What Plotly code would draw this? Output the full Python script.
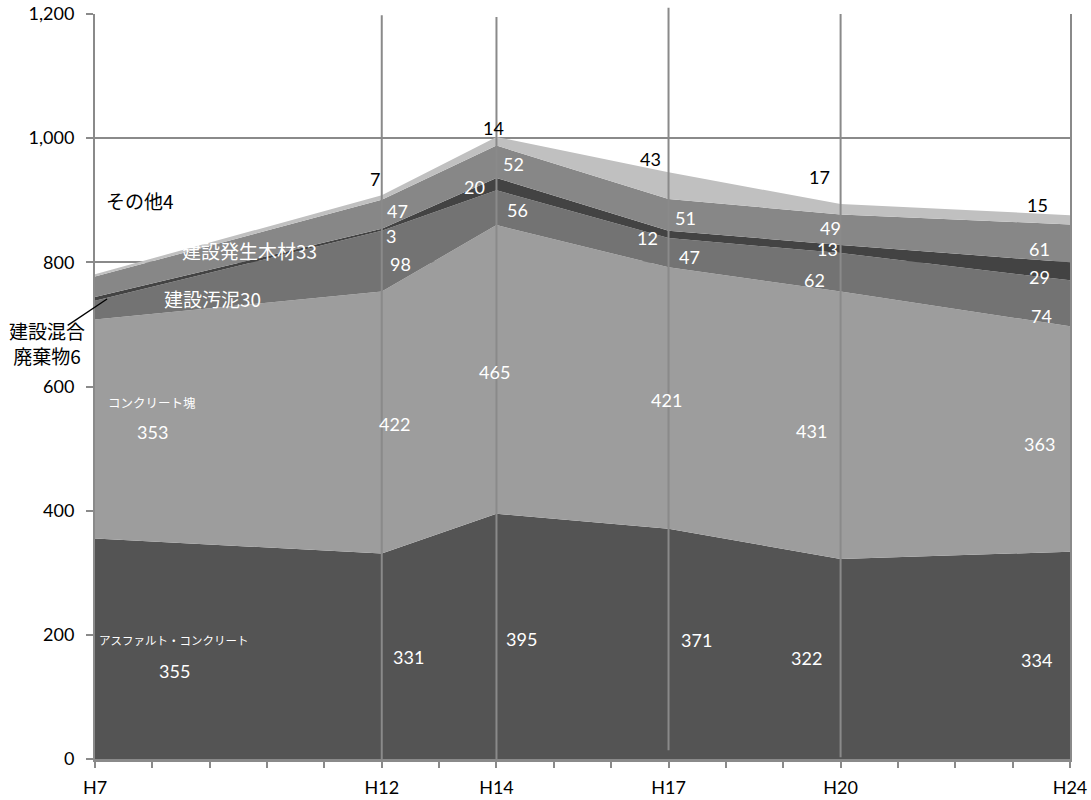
import plotly.graph_objects as go

# 年度（平成）
years = [7, 12, 14, 17, 20, 24]
year_labels = ["H7", "H12", "H14", "H17", "H20", "H24"]

# 品目別の量（下から積み上げ順）
asphalt = [355, 331, 395, 371, 322, 334]      # アスファルト・コンクリート
concrete = [353, 422, 465, 421, 431, 363]     # コンクリート塊
sludge = [30, 98, 56, 47, 62, 74]             # 建設汚泥
mixed = [6, 3, 20, 12, 13, 29]                # 建設混合廃棄物
wood = [33, 47, 52, 51, 49, 61]               # 建設発生木材
other = [4, 7, 14, 43, 17, 15]                # その他

series = [
    ("アスファルト・コンクリート", asphalt, "#545454"),
    ("コンクリート塊", concrete, "#9d9d9d"),
    ("建設汚泥", sludge, "#737373"),
    ("建設混合廃棄物", mixed, "#434343"),
    ("建設発生木材", wood, "#878787"),
    ("その他", other, "#c0c0c0"),
]

NUM_FONT = "Lato, 'Noto Sans CJK JP', sans-serif"
JP_FONT = "'Noto Sans CJK JP', sans-serif"
X0, X1, YMAX = 7, 24, 1200

fig = go.Figure()
for name, vals, col in series:
    fig.add_trace(go.Scatter(
        x=years, y=vals, name=name, mode="lines",
        stackgroup="all", line=dict(width=0, color=col),
        fillcolor=col, hoverinfo="skip",
    ))

# 値ラベルの配置（系列番号, 年度の位置, x, y, 文字色）
label_pos = [
    (0, 0, 8.39, 141, "white"), (0, 1, 12.46, 165, "white"), (0, 2, 14.43, 194, "white"),
    (0, 3, 17.48, 191, "white"), (0, 4, 19.40, 162, "white"), (0, 5, 23.41, 159, "white"),
    (1, 0, 8.00, 526, "white"), (1, 1, 12.23, 539, "white"), (1, 2, 13.97, 623, "white"),
    (1, 3, 16.96, 578, "white"), (1, 4, 19.50, 529, "white"), (1, 5, 23.46, 508, "white"),
    (2, 1, 12.32, 797, "white"), (2, 2, 14.36, 884, "white"),
    (2, 3, 17.37, 808, "white"), (2, 4, 19.55, 772, "white"), (2, 5, 23.51, 714, "white"),
    (3, 1, 12.16, 843, "white"), (3, 2, 13.61, 922, "white"),
    (3, 3, 16.64, 840, "white"), (3, 4, 19.78, 821, "white"), (3, 5, 23.46, 777, "white"),
    (4, 1, 12.28, 882, "white"), (4, 2, 14.29, 959, "white"),
    (4, 3, 17.30, 872, "white"), (4, 4, 19.83, 856, "white"), (4, 5, 23.46, 822, "white"),
    (5, 1, 11.88, 935, "black"), (5, 2, 13.94, 1017, "black"),
    (5, 3, 16.68, 966, "black"), (5, 4, 19.64, 937, "black"), (5, 5, 23.44, 893, "black"),
]
for si, yi, lx, ly, col in label_pos:
    fig.add_annotation(x=lx, y=ly, text=str(series[si][1][yi]), showarrow=False,
                       font=dict(family=NUM_FONT, size=18, color=col))

# 品目名ラベル（H7）
fig.add_annotation(x=8.37, y=191, text="アスファルト・コンクリート", showarrow=False,
                   font=dict(family=JP_FONT, size=11.5, color="white"))
fig.add_annotation(x=8.00, y=574, text="コンクリート塊", showarrow=False,
                   font=dict(family=JP_FONT, size=12.5, color="white"))
fig.add_annotation(x=9.04, y=742, text=f"建設汚泥{sludge[0]}", showarrow=False,
                   font=dict(family=JP_FONT, size=19, color="white"))
fig.add_annotation(x=9.70, y=819, text=f"建設発生木材{wood[0]}", showarrow=False,
                   font=dict(family=JP_FONT, size=19, color="white"))
fig.add_annotation(x=7.78, y=900, text=f"その他{other[0]}", showarrow=False,
                   font=dict(family=JP_FONT, size=19, color="black"))

# 建設混合廃棄物：軸の外に置いたラベルと引出線
mix_x, mix_y = 7.21, asphalt[0] + concrete[0] + sludge[0] + mixed[0] / 2
fig.add_annotation(xref="paper", yref="paper", x=-0.049, y=0.558,
                   text=f"建設混合<br>廃棄物{mixed[0]}", showarrow=False,
                   xanchor="center", yanchor="middle",
                   font=dict(family=JP_FONT, size=19, color="black"))
fig.add_shape(type="line", xref="paper", yref="paper",
              x0=-0.028, y0=0.582,
              x1=(mix_x - X0) / (X1 - X0), y1=mix_y / YMAX,
              line=dict(color="black", width=1.3), layer="above")

# 年度区切りの縦線
for x0, y0, y1 in [(12, 0, 1198), (14, 0, 1195), (17, 14, 1210), (20, 3, 1200)]:
    fig.add_shape(type="line", x0=x0, x1=x0, y0=y0 / YMAX, y1=y1 / YMAX,
                  xref="x", yref="paper",
                  line=dict(color="#8a8a8a", width=2), layer="above")

fig.update_layout(
    width=1091, height=800,
    margin=dict(l=95, r=21, t=14, b=41),
    plot_bgcolor="white", paper_bgcolor="white",
    showlegend=False,
    font=dict(family=NUM_FONT, size=18, color="black"),
)
fig.update_xaxes(
    range=[X0, X1], tickmode="array", automargin=False,
    tickvals=list(range(X0, X1 + 1)),
    ticktext=[year_labels[years.index(v)] if v in years else "" for v in range(X0, X1 + 1)],
    ticks="outside", ticklen=6, tickcolor="#8a8a8a", tickwidth=1.5,
    showline=True, linecolor="#8a8a8a", linewidth=2.5,
    showgrid=False, zeroline=False, ticklabelstandoff=5,
    tickfont=dict(family=NUM_FONT, size=18, color="black"),
)
fig.update_yaxes(
    range=[0, YMAX], dtick=200, tickformat=",", automargin=False,
    ticks="outside", ticklen=7, tickcolor="#8a8a8a", tickwidth=1.5,
    showline=True, mirror=True, linecolor="#8a8a8a", linewidth=2,
    showgrid=True, gridcolor="#8a8a8a", gridwidth=1.5, zeroline=False,
    ticklabelstandoff=8,
    tickfont=dict(family=NUM_FONT, size=18, color="black"),
)

fig.write_html("out.html")
